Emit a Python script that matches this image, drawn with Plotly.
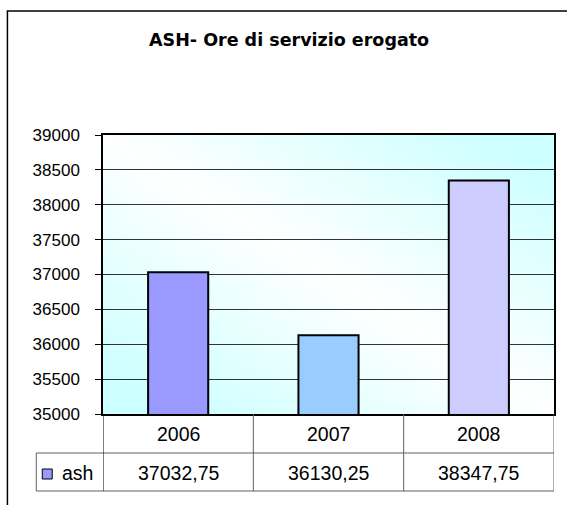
import base64
import struct
import zlib
import plotly.graph_objects as go

# ---- data ----
years = ["2006", "2007", "2008"]
ash_values = [37032.75, 36130.25, 38347.75]
series_name = "ash"
bar_colors = ["#9999FF", "#99CCFF", "#CCCCFF"]
title_text = "ASH- Ore di servizio erogato"
y_min, y_max, y_step = 35000, 39000, 500

# ---- geometry (pixels) ----
W, H = 567, 505
L, R, T, B = 103, 11, 135, 91
PW = W - L - R
PH = H - T - B
plot_bottom = H - B


def px_x(p):
    return (p - L) / PW


def px_y(p):
    return (plot_bottom - p) / PH


# ---- gradient background image (white along diagonal, light cyan corners) ----
def gradient_png(w, h, c0=(255, 255, 255), c1=(204, 255, 255)):
    rows = []
    for j in range(h):
        v = j / (h - 1)
        row = bytearray([0])
        for i in range(w):
            u = i / (w - 1)
            t = min(1.0, abs(u - v) * 1.15)
            row += bytes(int(round(c0[k] * (1 - t) + c1[k] * t)) for k in range(3))
        rows.append(bytes(row))
    raw = b"".join(rows)

    def chunk(tag, data):
        c = tag + data
        return struct.pack(">I", len(data)) + c + struct.pack(">I", zlib.crc32(c) & 0xFFFFFFFF)

    png = b"\x89PNG\r\n\x1a\n"
    png += chunk(b"IHDR", struct.pack(">IIBBBBB", w, h, 8, 2, 0, 0, 0))
    png += chunk(b"IDAT", zlib.compress(raw, 9))
    png += chunk(b"IEND", b"")
    return "data:image/png;base64," + base64.b64encode(png).decode()


bg_src = gradient_png(180, 112)

fig = go.Figure()
fig.add_trace(go.Bar(
    x=years, y=ash_values, name=series_name,
    marker=dict(color=bar_colors, line=dict(color="#000000", width=2)),
    width=0.4, showlegend=False, hoverinfo="x+y",
))

line_col = "#606060"
shapes = []
# outer chart border (extends past right/bottom edges)
shapes.append(dict(type="rect", xref="paper", yref="paper",
                   x0=px_x(7), x1=px_x(620), y0=px_y(560), y1=px_y(11),
                   line=dict(color="#000000", width=1.5), fillcolor="rgba(0,0,0,0)", layer="above"))
# table rows
row1_bot = 453
row2_bot = 491
for yy in (row1_bot, row2_bot):
    shapes.append(dict(type="line", xref="paper", yref="paper",
                       x0=px_x(36), x1=1, y0=px_y(yy), y1=px_y(yy),
                       line=dict(color=line_col, width=1)))
shapes.append(dict(type="line", xref="paper", yref="paper",
                   x0=px_x(36), x1=px_x(36), y0=px_y(row1_bot), y1=px_y(row2_bot),
                   line=dict(color=line_col, width=1)))
# vertical table lines at category boundaries
for k in range(len(years) + 1):
    shapes.append(dict(type="line", xref="x", yref="paper",
                       x0=k - 0.5, x1=k - 0.5, y0=0, y1=px_y(row2_bot),
                       line=dict(color="#000000" if k == 0 else line_col, width=1)))
# legend key square
shapes.append(dict(type="rect", xref="paper", yref="paper",
                   x0=px_x(42), x1=px_x(52), y0=px_y(479), y1=px_y(469),
                   fillcolor=bar_colors[0], line=dict(color="#000000", width=1)))

table_font = dict(family="Liberation Sans, Arial, sans-serif", size=19.5, color="#000000")
annotations = []
for i, (yr, v) in enumerate(zip(years, ash_values)):
    annotations.append(dict(xref="x", yref="paper", x=i, y=px_y(434), text=yr,
                            showarrow=False, xanchor="center", yanchor="middle", font=table_font))
    label = f"{v:.2f}".replace(".", ",")
    annotations.append(dict(xref="x", yref="paper", x=i, y=px_y(473), text=label,
                            showarrow=False, xanchor="center", yanchor="middle", font=table_font))
annotations.append(dict(xref="paper", yref="paper", x=px_x(60), y=px_y(473), text=series_name,
                        showarrow=False, xanchor="left", yanchor="middle", font=table_font))
annotations.append(dict(xref="paper", yref="paper", x=(290 - L) / PW, y=px_y(40), text=title_text,
                        showarrow=False, xanchor="center", yanchor="middle",
                        font=dict(family="DejaVu Sans, sans-serif", size=17.5, color="#000000", weight="bold")))

fig.update_layout(
    width=W, height=H,
    margin=dict(l=L, r=R, t=T, b=B, pad=0),
    paper_bgcolor="#FFFFFF",
    plot_bgcolor="rgba(0,0,0,0)",
    showlegend=False,
    shapes=shapes,
    annotations=annotations,
    images=[dict(source=bg_src, xref="paper", yref="paper", x=0, y=1, sizex=1, sizey=1,
                 xanchor="left", yanchor="top", sizing="stretch", layer="below")],
    xaxis=dict(type="category", range=[-0.5, len(years) - 0.5], showticklabels=False,
               showgrid=False, showline=True, linecolor="#000000", linewidth=1.5, mirror=True,
               ticks="", zeroline=False, fixedrange=True),
    yaxis=dict(range=[y_min, y_max], dtick=y_step, tick0=y_min, tickformat="d",
               showgrid=True, gridcolor="#333333", gridwidth=1,
               showline=True, linecolor="#000000", linewidth=1.5, mirror=True,
               ticks="outside", ticklen=6, tickcolor="#000000", tickwidth=1,
               ticklabelstandoff=12, zeroline=False,
               tickfont=dict(family="Liberation Sans, Arial, sans-serif", size=17, color="#000000")),
)

fig.write_html("out.html",
               config={"displayModeBar": False},
               post_script="document.body.style.margin='0';document.body.style.padding='0';")
